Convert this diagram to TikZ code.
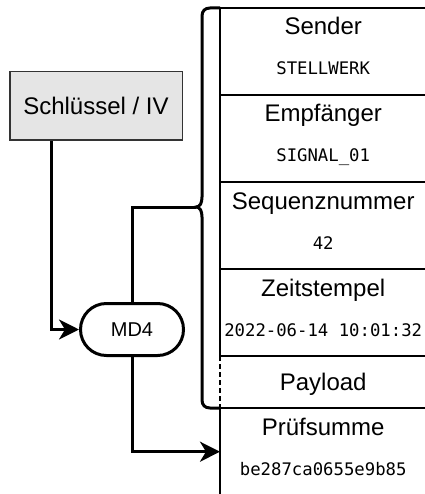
\documentclass[tikz,border=0pt]{standalone}
\usepackage{fontspec}
\setmainfont{Liberation Sans}
\newfontfamily\monof{DejaVu Sans Mono}
\usetikzlibrary{arrows.meta}
\begin{document}
\begin{tikzpicture}[x=1pt,y=-1pt,
  cell/.style={minimum width=206pt,minimum height=87pt,inner sep=0pt,anchor=north west},
  ttl/.style={font=\fontsize{24}{28}\selectfont,anchor=base,inner sep=0pt},
  val/.style={font=\monof\fontsize{17.3}{20}\selectfont,anchor=base,inner sep=0pt},
  conn/.style={line width=3pt},
  arr/.style={conn,-{Stealth[length=20pt,width=20pt,inset=6pt]}},
  gridline/.style={line width=1.2pt},
  keybox/.style={draw=black!80,line width=1.5pt,fill=black!10,minimum width=172.5pt,minimum height=68.5pt,inner sep=0pt,font=\fontsize{24}{28}\selectfont},
  hashbox/.style={draw,line width=3pt,rounded corners=25.9pt,minimum width=103pt,minimum height=52pt,inner sep=0pt,font=\fontsize{20}{24}\selectfont}]
\useasboundingbox (0,0) rectangle (424,494);

% table cells
\node[cell] (sender) at (220,8) {};
\node[cell] (empf) at (220,95) {};
\node[cell] (seq) at (220,182) {};
\node[cell] (zeit) at (220,269) {};
\node[cell,minimum height=52pt] (payload) at (220,356) {};
\node[cell] (pruef) at (220,408) {};

\node[ttl] (senderT) at ([yshift=-27pt]sender.north) {Sender};
\node[val] (senderV) at ([yshift=-67pt]sender.north) {STELLWERK};
\node[ttl] (empfT) at ([yshift=-27pt]empf.north) {Empfänger};
\node[val] (empfV) at ([yshift=-67pt]empf.north) {SIGNAL\_01};
\node[ttl] (seqT) at ([yshift=-27pt]seq.north) {Sequenznummer};
\node[val] (seqV) at ([yshift=-67pt]seq.north) {42};
\node[ttl] (zeitT) at ([yshift=-27pt]zeit.north) {Zeitstempel};
\node[val] (zeitV) at ([yshift=-67pt]zeit.north) {2022-06-14 10:01:32};
\node[ttl] (payloadT) at ([yshift=-34pt]payload.north) {Payload};
\node[ttl] (pruefT) at ([yshift=-27pt]pruef.north) {Prüfsumme};
\node[val] (pruefV) at ([yshift=-67pt]pruef.north) {be287ca0655e9b85};

% table lines
\draw[gridline] (sender.north west) -- (sender.north east);
\draw[gridline] (empf.north west) -- (empf.north east);
\draw[gridline] (seq.north west) -- (seq.north east);
\draw[gridline] (zeit.north west) -- (zeit.north east);
\draw[gridline] (payload.north west) -- (payload.north east);
\draw[gridline] (pruef.north west) -- (pruef.north east);
\draw[gridline] (sender.north west) -- (zeit.south west);
\draw[gridline,dash pattern=on 5pt off 3pt] (payload.north west) -- (payload.south west);
\draw[gridline] (pruef.north west) -- (pruef.south west);

% brace
\coordinate (bracetip) at (196,207);
\draw[line width=3pt] (sender.north west) -- (210,8) .. controls (205,8) and (202,11) .. (202,16)
  -- (202,197) .. controls (202,203) and (200,207) .. (bracetip)
  .. controls (200,207) and (202,211) .. (202,217)
  -- (202,400) .. controls (202,405) and (205,408) .. (210,408) -- (pruef.north west);

% key and hash
\node[keybox] (key) at (96,106) {Schlüssel / IV};
\node[hashbox] (md4) at (132,329.5) {MD4};

% connectors
\draw[conn] (bracetip) -| (md4.north);
\draw[arr] ([xshift=42pt]key.south west) |- (md4.west);
\draw[arr] (md4.south) |- (pruef.west);
\end{tikzpicture}
\end{document}
